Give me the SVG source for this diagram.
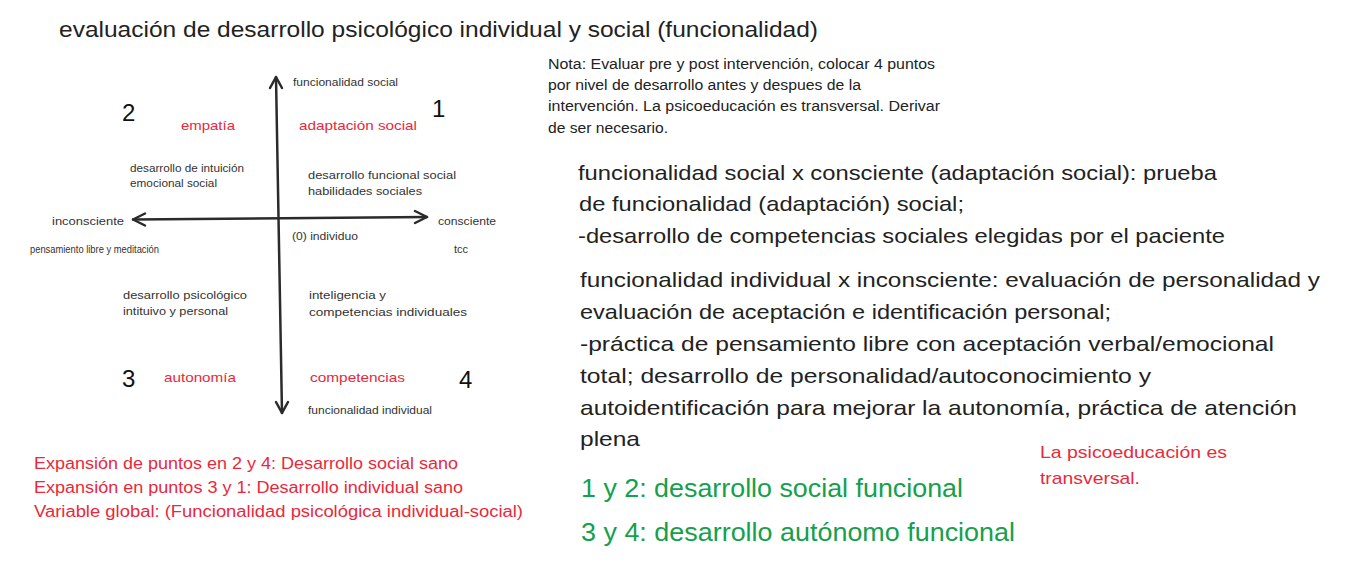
<svg xmlns="http://www.w3.org/2000/svg" width="1366" height="566" viewBox="0 0 1366 566">
<style>
text{font-family:"Liberation Sans","Noto Sans",Arial,sans-serif;fill:#222}
.r{fill:#e8293b}
.g{fill:#14a04c}
.s{font-size:11px;fill:#333}
.n{font-size:24px;fill:#111}
.q{font-size:13px}
.b{font-size:21px}
.ax{stroke:#2b2b2b;stroke-width:2.5;fill:none;stroke-linecap:round;stroke-linejoin:round}
</style>
<rect width="1366" height="566" fill="#fff"/>
<text x="59" y="37" font-size="22" textLength="759" lengthAdjust="spacingAndGlyphs">evaluación de desarrollo psicológico individual y social (funcionalidad)</text>
<g id="axes">
<path class="ax" d="M276 77 L282 413"/>
<path class="ax" d="M270 88 L276 77 L282 88"/>
<path class="ax" d="M276 402 L282 413 L288 402"/>
<path class="ax" d="M133 219.5 L427 217"/>
<path class="ax" d="M145 213.5 L133 219.5 L145 225.5"/>
<path class="ax" d="M415 211 L427 217 L415 223"/>
</g>
<g id="axis-labels">
<text class="s" x="293" y="86" textLength="105" lengthAdjust="spacingAndGlyphs">funcionalidad social</text>
<text class="s" x="52" y="225" font-size="12" textLength="72" lengthAdjust="spacingAndGlyphs">inconsciente</text>
<text class="s" x="438" y="225" textLength="58" lengthAdjust="spacingAndGlyphs">consciente</text>
<text class="s" x="292" y="240" textLength="66" lengthAdjust="spacingAndGlyphs">(0) individuo</text>
<text class="s" x="30" y="253" font-size="8" textLength="129" lengthAdjust="spacingAndGlyphs">pensamiento libre y meditación</text>
<text class="s" x="454" y="253" font-size="8">tcc</text>
<text class="s" x="308" y="414" textLength="124" lengthAdjust="spacingAndGlyphs">funcionalidad individual</text>
</g>
<g id="q1">
<text class="n" x="432" y="117">1</text>
<text class="q r" x="299" y="130" textLength="118" lengthAdjust="spacingAndGlyphs">adaptación social</text>
<text class="s" x="308" y="179" textLength="148" lengthAdjust="spacingAndGlyphs">desarrollo funcional social</text>
<text class="s" x="308" y="195" textLength="114" lengthAdjust="spacingAndGlyphs">habilidades sociales</text>
</g>
<g id="q2">
<text class="n" x="122" y="121">2</text>
<text class="q r" x="181" y="130" textLength="54" lengthAdjust="spacingAndGlyphs">empatía</text>
<text class="s" x="130" y="172" textLength="114" lengthAdjust="spacingAndGlyphs">desarrollo de intuición</text>
<text class="s" x="130" y="187" textLength="87" lengthAdjust="spacingAndGlyphs">emocional social</text>
</g>
<g id="q3">
<text class="s" x="123" y="299" textLength="124" lengthAdjust="spacingAndGlyphs">desarrollo psicológico</text>
<text class="s" x="123" y="315" textLength="105" lengthAdjust="spacingAndGlyphs">intituivo y personal</text>
<text class="n" x="122" y="387">3</text>
<text class="q r" x="164" y="382" textLength="72" lengthAdjust="spacingAndGlyphs">autonomía</text>
</g>
<g id="q4">
<text class="s" x="309" y="299" textLength="77" lengthAdjust="spacingAndGlyphs">inteligencia y</text>
<text class="s" x="309" y="316" textLength="158" lengthAdjust="spacingAndGlyphs">competencias individuales</text>
<text class="q r" x="310" y="382" textLength="95" lengthAdjust="spacingAndGlyphs">competencias</text>
<text class="n" x="459" y="388">4</text>
</g>
<g id="nota">
<text x="548" y="69" font-size="14" textLength="387" lengthAdjust="spacingAndGlyphs">Nota: Evaluar pre y post intervención, colocar 4 puntos</text>
<text x="548" y="90" font-size="14" textLength="313" lengthAdjust="spacingAndGlyphs">por nivel de desarrollo antes y despues de la</text>
<text x="548" y="111" font-size="14" textLength="392" lengthAdjust="spacingAndGlyphs">intervención. La psicoeducación es transversal. Derivar</text>
<text x="548" y="133" font-size="14" textLength="120" lengthAdjust="spacingAndGlyphs">de ser necesario.</text>
</g>
<g id="social-block">
<text class="b" x="578" y="180" textLength="639" lengthAdjust="spacingAndGlyphs">funcionalidad social x consciente (adaptación social): prueba</text>
<text class="b" x="579" y="211" textLength="385" lengthAdjust="spacingAndGlyphs">de funcionalidad (adaptación) social;</text>
<text class="b" x="578" y="243" textLength="647" lengthAdjust="spacingAndGlyphs">-desarrollo de competencias sociales elegidas por el paciente</text>
</g>
<g id="individual-block">
<text class="b" x="580" y="287" textLength="740" lengthAdjust="spacingAndGlyphs">funcionalidad individual x inconsciente: evaluación de personalidad y</text>
<text class="b" x="580" y="319" textLength="531" lengthAdjust="spacingAndGlyphs">evaluación de aceptación e identificación personal;</text>
<text class="b" x="580" y="351" textLength="694" lengthAdjust="spacingAndGlyphs">-práctica de pensamiento libre con aceptación verbal/emocional</text>
<text class="b" x="580" y="383" textLength="571" lengthAdjust="spacingAndGlyphs">total; desarrollo de personalidad/autoconocimiento y</text>
<text class="b" x="580" y="415" textLength="717" lengthAdjust="spacingAndGlyphs">autoidentificación para mejorar la autonomía,  práctica de atención</text>
<text class="b" x="580" y="446" textLength="60" lengthAdjust="spacingAndGlyphs">plena</text>
</g>
<g id="psicoeducacion">
<text class="r" x="1040" y="458" font-size="17" textLength="187" lengthAdjust="spacingAndGlyphs">La psicoeducación es</text>
<text class="r" x="1040" y="484" font-size="17" textLength="100" lengthAdjust="spacingAndGlyphs">transversal.</text>
</g>
<g id="green-summary">
<text class="g" x="581" y="497" font-size="26" textLength="382" lengthAdjust="spacingAndGlyphs">1 y 2: desarrollo social funcional</text>
<text class="g" x="581" y="541" font-size="26" textLength="434" lengthAdjust="spacingAndGlyphs">3 y 4: desarrollo autónomo funcional</text>
</g>
<g id="expansion">
<text class="r" x="34" y="469" font-size="16" textLength="424" lengthAdjust="spacingAndGlyphs">Expansión de puntos en 2 y 4: Desarrollo social sano</text>
<text class="r" x="34" y="493" font-size="16" textLength="429" lengthAdjust="spacingAndGlyphs">Expansión en puntos 3 y 1: Desarrollo individual sano</text>
<text class="r" x="34" y="517" font-size="16" textLength="489" lengthAdjust="spacingAndGlyphs">Variable global: (Funcionalidad psicológica individual-social)</text>
</g>
</svg>
